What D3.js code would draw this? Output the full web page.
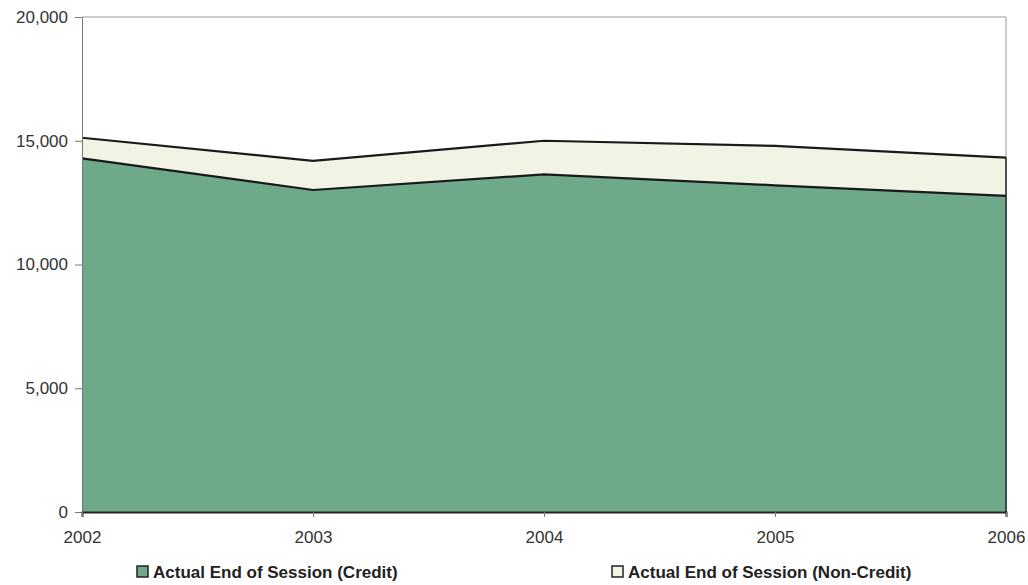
<!DOCTYPE html>
<html><head><meta charset="utf-8">
<script src="https://cdn.jsdelivr.net/npm/d3@7"></script>
<style>body{margin:0;background:#fff;} svg{display:block;font-family:"Liberation Sans",Arial,sans-serif;}</style>
</head><body><svg id="c" width="1028" height="585"></svg>
<script>
const years = [2002, 2003, 2004, 2005, 2006];
const credit = [14290, 13010, 13640, 13200, 12770];
const nonCredit = [830, 1180, 1360, 1590, 1550];
const yTicks = [0, 5000, 10000, 15000, 20000];
const seriesNames = ["Actual End of Session (Credit)", "Actual End of Session (Non-Credit)"];
const colors = ["#6ea98a", "#f1f4e4"];

const svg = d3.select("#c");
const m = {l: 82, r: 1006, t: 17, b: 512};
const x = d3.scaleLinear().domain([2002, 2006]).range([m.l, m.r]);
const y = d3.scaleLinear().domain([0, 20000]).range([m.b, m.t]);

const rows = years.map((yr, i) => ({year: yr, credit: credit[i], nonCredit: nonCredit[i]}));
const stack = d3.stack().keys(["credit", "nonCredit"])(rows);

svg.append("path").attr("d", `M${m.l},${m.t}H${m.r}V${m.b}`).attr("fill", "none").attr("stroke", "#999").attr("stroke-width", 1);

const area = d3.area().x(d => x(d.data.year)).y0(d => y(d[0])).y1(d => y(d[1]));
const line = d3.line().x(d => x(d.data.year)).y(d => y(d[1]));

svg.selectAll(".ar").data(stack).join("path")
  .attr("d", area).attr("fill", (d, i) => colors[i]);
svg.selectAll(".ln").data(stack).join("path")
  .attr("d", line).attr("fill", "none").attr("stroke", "#1a1a1a").attr("stroke-width", 2.2);
svg.append("line").attr("x1", x(2006)).attr("x2", x(2006)).attr("y1", y(0)).attr("y2", y(credit[4] + nonCredit[4]))
  .attr("stroke", "#222").attr("stroke-width", 1.5);

const fs = 17;
const yAxis = d3.axisLeft(y).tickValues(yTicks).tickSize(7).tickPadding(7).tickFormat(d3.format(","));
const gy = svg.append("g").attr("transform", `translate(${m.l},0)`).call(yAxis);
gy.select(".domain").attr("stroke", "#777");
gy.selectAll(".tick line").attr("stroke", "#777");
gy.selectAll("text").attr("font-size", fs).attr("fill", "#333").attr("font-family", "Liberation Sans, Arial, sans-serif");

const xAxis = d3.axisBottom(x).tickValues(years).tickSize(5).tickPadding(14).tickFormat(d3.format("d"));
const gx = svg.append("g").attr("transform", `translate(0,${m.b})`).call(xAxis);
gx.select(".domain").attr("stroke", "#222").attr("stroke-width", 2);
gx.selectAll(".tick line").attr("stroke", "#777");
gx.selectAll("text").attr("font-size", fs).attr("fill", "#333").attr("font-family", "Liberation Sans, Arial, sans-serif");

const legX = [137, 612];
seriesNames.forEach((n, i) => {
  const g = svg.append("g").attr("transform", `translate(${legX[i]},566)`);
  g.append("rect").attr("x", 0).attr("y", 0).attr("width", 11).attr("height", 11)
    .attr("fill", colors[i]).attr("stroke", "#222").attr("stroke-width", 1.5);
  g.append("text").attr("x", 16).attr("y", 12).attr("font-size", fs).attr("font-weight", "bold")
    .attr("fill", "#222").text(n);
});
</script></body></html>
